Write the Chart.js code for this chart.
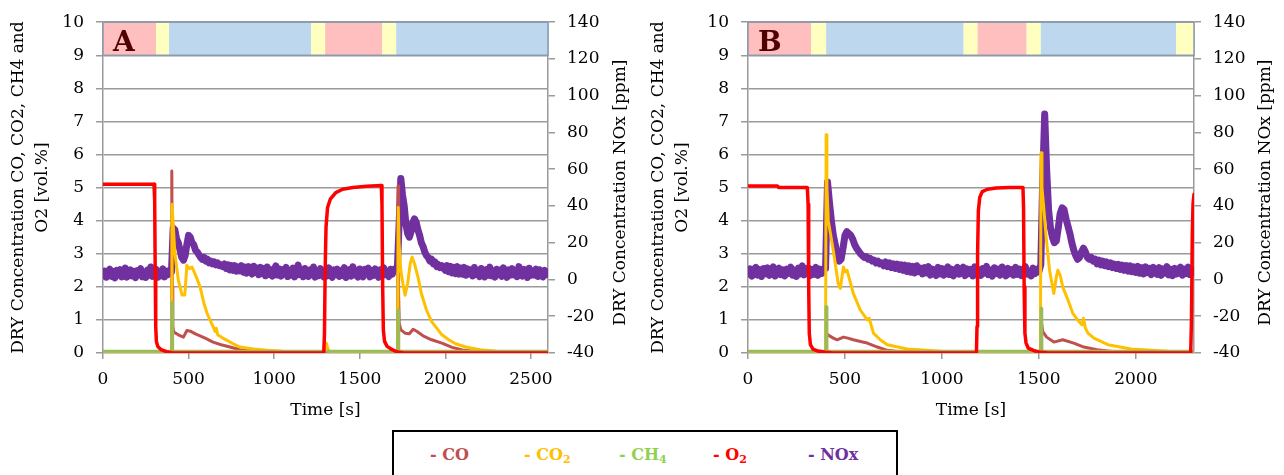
<!DOCTYPE html>
<html>
<head>
<meta charset="utf-8">
<script src="https://cdn.jsdelivr.net/npm/chart.js@4.4.1/dist/chart.umd.min.js"></script>
<style>
  body { margin: 0; background: #fff; width: 1284px; height: 475px; overflow: hidden; position: relative; font-family: "DejaVu Serif", serif; }
  #wrapA { position: absolute; left: 0; top: 0; }
  #wrapB { position: absolute; left: 640px; top: 0; }
  #legend { position: absolute; left: 392px; top: 430px; width: 506px; height: 70px; border: 2px solid #000; box-sizing: border-box; background: #fff; }
  #legend span { position: absolute; top: 13px; font-weight: bold; font-size: 16px; line-height: 20px; white-space: nowrap; }
  #legend sub { font-size: 11px; vertical-align: -3px; line-height: 0; }
</style>
</head>
<body>
<div id="wrapA"><canvas id="chartA" width="640" height="430"></canvas></div>
<div id="wrapB"><canvas id="chartB" width="644" height="430"></canvas></div>
<div id="legend">
  <span style="left:36px;color:#C0504D">- CO</span>
  <span style="left:130px;color:#FFC000">- CO<sub>2</sub></span>
  <span style="left:225px;color:#92D050">- CH<sub>4</sub></span>
  <span style="left:319px;color:#FF0000">- O<sub>2</sub></span>
  <span style="left:414px;color:#7030A0">- NOx</span>
</div>
<script>
// ---- data (time in s, gases in vol.%, NOx in ppm) ----
const NOX_STEP = 10; // s between NOx samples

const A_X_TICKS = [0, 500, 1000, 1500, 2000, 2500];
const B_X_TICKS = [0, 500, 1000, 1500, 2000];
const LEFT_TICKS = [0, 1, 2, 3, 4, 5, 6, 7, 8, 9, 10];
const RIGHT_TICKS = [-40, -20, 0, 20, 40, 60, 80, 100, 120, 140];

const Y_TITLE = ['DRY Concentration CO, CO2, CH4 and', 'O2 [vol.%]'];
const NOX_TITLE = 'DRY Concentration NOx [ppm]';
const X_TITLE = 'Time [s]';

// phase strip at the top: [from, to, phase]
const A_BANDS = [[0, 310, 'ox'], [310, 386, 'sw'], [386, 1216, 'red'], [1216, 1298, 'sw'],
  [1298, 1632, 'ox'], [1632, 1713, 'sw'], [1713, 2600, 'red']];
const B_BANDS = [[0, 326, 'ox'], [326, 403, 'sw'], [403, 1112, 'red'], [1112, 1184, 'sw'],
  [1184, 1437, 'ox'], [1437, 1510, 'sw'], [1510, 2208, 'red'], [2208, 2300, 'sw']];

// panel A
const A_O2 = [[0,5.1],[298,5.1],[302,4.6],[305,2.5],[308,0.8],[312,0.35],[320,0.2],[340,0.1],[370,0.04],[410,0],
  [1290,0],[1294,0.6],[1298,2.5],[1303,3.8],[1312,4.4],[1328,4.65],[1360,4.85],[1400,4.95],[1460,5.0],[1540,5.04],
  [1626,5.06],[1630,4.5],[1634,2.0],[1638,0.7],[1645,0.35],[1660,0.2],[1690,0.1],[1720,0.03],[1760,0],[2600,0]];
const A_CO = [[0,0],[399,0],[402,5.5],[405,2.0],[408,0.8],[414,0.63],[440,0.55],[470,0.48],[490,0.68],[510,0.66],
  [540,0.58],[567,0.52],[600,0.44],[643,0.33],[690,0.25],[742,0.18],[800,0.1],[870,0.05],[950,0.02],[1050,0],
  [1721,0],[1724,5.05],[1727,1.8],[1731,0.9],[1740,0.7],[1765,0.6],[1790,0.58],[1812,0.72],[1835,0.65],[1870,0.52],
  [1920,0.4],[1980,0.3],[2040,0.17],[2100,0.09],[2200,0.03],[2300,0],[2600,0]];
const A_CO2 = [[0,0],[400,0],[403,4.5],[408,4.1],[420,3.0],[440,2.2],[462,1.75],[478,1.75],[490,2.65],[505,2.55],
  [520,2.6],[545,2.3],[567,2.0],[590,1.5],[608,1.2],[643,0.8],[655,0.65],[662,0.75],[670,0.55],[700,0.45],
  [725,0.38],[760,0.28],[800,0.18],[880,0.12],[958,0.08],[1050,0.05],[1150,0.04],[1290,0.02],[1305,0.3],[1315,0.1],
  [1330,0.02],[1722,0.02],[1725,4.4],[1730,3.3],[1740,2.5],[1752,2.1],[1765,1.75],[1780,2.1],[1795,2.7],[1806,2.9],
  [1820,2.7],[1840,2.3],[1860,1.8],[1890,1.3],[1920,0.95],[1950,0.75],[1980,0.55],[2020,0.4],[2060,0.28],[2120,0.18],
  [2204,0.1],[2300,0.05],[2400,0.02],[2600,0.02]];
const A_CH4 = [[0,0.05],[400,0.05],[402,1.53],[405,1.53],[407,0.05],[1722,0.05],[1724,1.3],[1727,1.3],[1729,0.05],[2600,0.05]];
const A_NOX = [
  2.0, 4.6, 1.2, 4.1, 5.6, 1.7, 4.4, 0.9, 5.0, 2.3,   // 0
  5.4, 1.4, 3.8, 6.2, 1.3, 3.4, 5.2, 1.9, 4.4, 1.0,   // 100
  4.8, 2.6, 5.9, 1.5, 4.2, 1.1, 5.1, 2.4, 6.8, 1.7,   // 200
  3.9, 5.6, 1.2, 4.5, 2.0, 5.8, 1.4, 4.6, 2.7, 5.0,   // 300
  4.0, 28, 27, 22, 20, 16, 12, 10.5, 13, 19,          // 400
  24, 23, 20, 19, 16, 15, 13.5, 12, 11, 12,           // 500
  10, 11, 9, 10, 8.5, 9.5, 8, 9, 7.5, 8,              // 600
  7, 8.5, 6, 8, 5.2, 7.6, 5, 7.5, 4.5, 6.8,           // 700
  4.7, 7.5, 4.0, 6.8, 3.4, 7.0, 4.2, 3.0, 7.2, 3.7,   // 800
  6.2, 2.6, 6.6, 3.2, 5.9, 2.0, 6.8, 2.8, 5.4, 1.8,   // 900
  5.2, 7.4, 2.4, 5.8, 1.8, 5.4, 2.9, 6.6, 1.6, 4.9,   // 1000
  2.4, 6.2, 1.4, 5.1, 7.8, 2.6, 5.5, 1.5, 6.0, 3.0,   // 1100
  1.7, 5.3, 2.5, 6.8, 1.3, 4.6, 2.1, 5.9, 2.7, 1.4,   // 1200
  5.0, 1.9, 6.3, 2.4, 1.2, 5.2, 2.9, 5.6, 1.6, 4.7,   // 1300
  2.3, 6.5, 1.1, 4.4, 5.3, 1.8, 6.9, 2.5, 4.8, 1.3,   // 1400
  5.7, 2.7, 1.5, 5.5, 3.0, 6.2, 1.4, 5.0, 2.2, 5.8,   // 1500
  2.8, 1.2, 5.2, 2.0, 6.4, 2.6, 4.6, 1.6, 5.6, 2.9,   // 1600
  5.4, 6.0, 6.5, 30, 55, 46, 40, 30, 25, 23,          // 1700
  26, 31, 33, 31, 27, 24, 20, 18, 15, 13,             // 1800
  12, 10, 11, 8.5, 9.5, 7, 8, 6.5, 7.5, 6,            // 1900
  5.0, 7.6, 4.2, 7.1, 3.6, 6.6, 3.2, 7.0, 2.9, 6.2,   // 2000
  2.9, 6.6, 2.3, 5.8, 3.1, 5.2, 1.9, 6.5, 2.7, 4.7,   // 2100
  1.6, 6.0, 3.0, 1.4, 5.4, 2.4, 6.7, 2.0, 4.9, 1.3,   // 2200
  5.6, 2.6, 5.1, 1.7, 6.3, 3.2, 1.2, 5.2, 2.3, 5.9,   // 2300
  2.5, 4.6, 1.5, 7.0, 2.8, 1.9, 5.5, 3.1, 1.1, 6.1,   // 2400
  2.2, 4.9, 2.4, 5.7, 1.6, 5.3, 2.9, 1.4, 5.0, 2.6,   // 2500
  4.0                                                 // 2600
];

// panel B
const B_O2 = [[0,5.05],[150,5.05],[160,5.0],[306,5.0],[310,4.5],[313,2.0],[316,0.6],[322,0.25],[335,0.12],[360,0.06],
  [400,0.02],[440,0],[1178,0],[1181,0.8],[1184,3.0],[1188,4.3],[1195,4.7],[1208,4.88],[1235,4.95],[1280,4.99],
  [1350,5.0],[1418,5.0],[1421,4.4],[1424,2.0],[1428,0.6],[1434,0.3],[1445,0.15],[1475,0.07],[1510,0.02],[1550,0],
  [2283,0],[2287,1.0],[2291,3.5],[2295,4.5],[2300,4.8]];
const B_CO = [[0,0],[399,0],[402,1.0],[405,0.6],[414,0.54],[440,0.45],[460,0.4],[492,0.48],[515,0.45],[543,0.4],
  [580,0.35],[615,0.3],[667,0.18],[718,0.08],[800,0.02],[900,0],[1511,0],[1514,0.9],[1520,0.65],[1540,0.48],
  [1577,0.33],[1623,0.4],[1680,0.3],[1732,0.18],[1800,0.1],[1900,0.03],[2000,0],[2300,0]];
const B_CO2 = [[0,0],[400,0],[403,6.6],[407,5.0],[414,4.0],[440,3.1],[465,2.1],[476,1.95],[492,2.6],[502,2.45],
  [511,2.5],[543,1.8],[579,1.3],[615,1.0],[625,1.05],[647,0.6],[682,0.4],[718,0.25],[822,0.12],[994,0.05],
  [1180,0.03],[1508,0.03],[1511,6.05],[1516,5.0],[1525,4.4],[1536,3.6],[1555,2.5],[1577,1.8],[1590,2.3],[1598,2.5],
  [1610,2.35],[1623,2.0],[1650,1.6],[1675,1.2],[1700,1.0],[1722,0.85],[1730,1.05],[1740,0.75],[1753,0.6],[1784,0.45],
  [1856,0.25],[1975,0.12],[2167,0.05],[2300,0.03]];
const B_CH4 = [[0,0.05],[400,0.05],[402,1.4],[405,1.4],[407,0.05],[1509,0.05],[1511,1.35],[1514,1.35],[1516,0.05],[2300,0.05]];
const B_NOX = [
  3.0, 5.8, 1.8, 5.2, 6.6, 2.4, 5.4, 1.6, 6.0, 3.2,   // 0
  6.4, 2.2, 4.8, 6.9, 1.9, 4.6, 6.1, 2.6, 5.3, 2.0,   // 100
  5.6, 3.3, 6.7, 2.3, 5.1, 1.7, 6.2, 3.0, 7.4, 2.5,   // 200
  4.9, 6.3, 2.1, 5.5, 2.8, 6.6, 2.2, 5.7, 3.3, 5.9,   // 300
  6, 53, 42, 32, 24, 19, 14, 10, 11, 17,              // 400
  24, 26, 25, 24, 22, 19, 17, 15.5, 14, 13,           // 500
  12, 12.5, 11, 11.5, 10, 10.5, 9, 10, 8.5, 9,        // 600
  7.5, 9.5, 7, 9, 6.5, 8.5, 6, 8.3, 5.5, 8,           // 700
  5.0, 7.8, 4.4, 7.4, 4.0, 7.1, 3.6, 7.5, 4.2, 6.2,   // 800
  3.0, 6.5, 3.6, 7.0, 2.4, 5.7, 3.9, 2.2, 6.6, 3.1,   // 900
  5.9, 2.3, 5.2, 6.8, 2.7, 5.6, 2.0, 5.4, 6.5, 2.9,   // 1000
  5.0, 6.7, 2.1, 5.8, 3.2, 5.5, 1.9, 6.9, 3.0, 5.3,   // 1100
  2.2, 6.0, 3.4, 7.1, 2.6, 5.2, 1.8, 6.4, 3.3, 5.6,   // 1200
  2.4, 6.8, 3.7, 2.0, 6.1, 3.1, 5.4, 2.3, 6.6, 2.8,   // 1300
  5.7, 2.1, 5.1, 7.0, 2.9, 4.7, 1.9, 6.2, 3.2, 5.5,   // 1400
  4.2, 8, 55, 90, 60, 38, 28, 23, 20, 21,             // 1500
  28, 36, 39, 38, 33, 29, 25, 20, 16, 13,             // 1600
  11, 12, 15, 17, 15, 12, 11, 12, 10, 11,             // 1700
  8.5, 10.5, 8, 10, 7.5, 9.5, 7, 9, 6.5, 8.3,         // 1800
  6, 8.2, 5.5, 7.8, 5.0, 7.6, 4.5, 7.4, 4.2, 6.8,     // 1900
  3.8, 7.2, 3.4, 6.4, 3.0, 6.9, 3.7, 6.1, 2.6, 6.6,   // 2000
  3.9, 2.8, 6.5, 2.2, 5.8, 3.4, 7.0, 2.5, 5.5, 2.1,   // 2100
  6.1, 3.0, 5.3, 6.7, 2.3, 5.6, 3.2, 6.8, 2.7, 5.2,   // 2200
  4.0                                                 // 2300
];

// ---- styling ----
const PHASE_COLORS = { ox: '#FFBFBF', sw: '#FFFFC0', red: '#BDD7EE' };
const FONT = '"DejaVu Serif", serif';
const GRID = '#9a9a9a';

const pairs = arr => arr.map(([x, y]) => ({ x, y }));
const series = (vals, step) => vals.map((y, i) => ({ x: i * step, y }));

// strip of phases, panel letter and NOx axis title (reads bottom to top)
const panelDecor = {
  id: 'panelDecor',
  beforeDatasetsDraw(chart, args, opts) {
    const { ctx, chartArea, scales: { x, y } } = chart;
    const top = y.getPixelForValue(10), bot = y.getPixelForValue(9);
    ctx.save();
    opts.bands.forEach(([from, to, phase]) => {
      const x0 = x.getPixelForValue(from), x1 = x.getPixelForValue(to);
      ctx.fillStyle = PHASE_COLORS[phase];
      ctx.fillRect(x0, top, x1 - x0, bot - top);
    });
    ctx.strokeStyle = '#8a9bb0';
    ctx.lineWidth = 1.5;
    ctx.strokeRect(chartArea.left, top, chartArea.right - chartArea.left, bot - top);
    ctx.font = 'bold 28px ' + FONT;
    ctx.fillStyle = '#4f0000';
    ctx.textBaseline = 'alphabetic';
    ctx.fillText(opts.letter, chartArea.left + 10, bot - 4);
    ctx.restore();
  },
  afterDraw(chart, args, opts) {
    const { ctx, chartArea } = chart;
    ctx.save();
    ctx.translate(opts.titleX, (chartArea.top + chartArea.bottom) / 2 + 5);
    ctx.rotate(-Math.PI / 2);
    ctx.font = '17px ' + FONT;
    ctx.fillStyle = '#000';
    ctx.textAlign = 'center';
    ctx.textBaseline = 'middle';
    ctx.fillText(NOX_TITLE, 0, 0);
    ctx.restore();
  }
};

function makeChart(id, p) {
  const line = (label, data, color, width, axis, order) => ({
    label, data, borderColor: color, borderWidth: width, yAxisID: axis, order,
    pointRadius: 0, tension: 0, borderJoinStyle: 'round', borderCapStyle: 'round'
  });
  return new Chart(document.getElementById(id), {
    type: 'line',
    data: {
      datasets: [
        line('O2', pairs(p.o2), '#FF0000', 3.5, 'y', 0),
        line('CH4', pairs(p.ch4), '#9BBB59', 3, 'y', 1),
        line('CO2', pairs(p.co2), '#FFC000', 3, 'y', 2),
        line('CO', pairs(p.co), '#C0504D', 3, 'y', 3),
        line('NOx', series(p.nox, NOX_STEP), '#7030A0', 7, 'y2', 4)
      ]
    },
    options: {
      responsive: false,
      animation: false,
      events: [],
      layout: { padding: { top: 21, right: 0, bottom: 0, left: 0 } },
      scales: {
        x: {
          type: 'linear', min: 0, max: p.xMax,
          afterFit: s => { s.height = 77; },
          afterBuildTicks: s => { s.ticks = p.xTicks.map(v => ({ value: v })); },
          ticks: { autoSkip: false, padding: 10, color: '#000', font: { family: FONT, size: 17 }, maxRotation: 0, callback: v => String(v) },
          grid: { display: true, drawOnChartArea: false, drawTicks: true, tickLength: 6, color: GRID, lineWidth: 1.5 },
          border: { display: false },
          title: { display: true, text: X_TITLE, color: '#000', font: { family: FONT, size: 17 }, padding: { top: 0, bottom: 9 } }
        },
        y: {
          position: 'left', min: 0, max: 10,
          afterFit: s => { s.width = p.leftW; },
          afterBuildTicks: s => { s.ticks = LEFT_TICKS.map(v => ({ value: v })); },
          ticks: { padding: 12, color: '#000', font: { family: FONT, size: 17 }, callback: v => String(v) },
          grid: { color: GRID, lineWidth: 1.5, tickLength: 7 },
          border: { display: true, color: GRID, width: 1.5 },
          title: { display: true, text: Y_TITLE, color: '#000', font: { family: FONT, size: 17, lineHeight: 1.45 }, padding: { top: 6, bottom: 0 } }
        },
        y2: {
          position: 'right', min: -40, max: 140,
          afterFit: s => { s.width = p.rightW; },
          afterBuildTicks: s => { s.ticks = RIGHT_TICKS.map(v => ({ value: v })); },
          ticks: { padding: 12, color: '#000', font: { family: FONT, size: 17 }, callback: v => String(v) },
          grid: { drawOnChartArea: false, color: GRID, lineWidth: 1.5, tickLength: 7 },
          border: { display: true, color: GRID, width: 1.5 }
        }
      },
      plugins: {
        legend: { display: false },
        tooltip: { enabled: false },
        panelDecor: { bands: p.bands, letter: p.letter, titleX: p.titleX }
      }
    },
    plugins: [panelDecor]
  });
}

makeChart('chartA', { o2: A_O2, co: A_CO, co2: A_CO2, ch4: A_CH4, nox: A_NOX, bands: A_BANDS,
  letter: 'A', xMax: 2600, xTicks: A_X_TICKS, leftW: 103, rightW: 92, titleX: 621 });
makeChart('chartB', { o2: B_O2, co: B_CO, co2: B_CO2, ch4: B_CH4, nox: B_NOX, bands: B_BANDS,
  letter: 'B', xMax: 2300, xTicks: B_X_TICKS, leftW: 108, rightW: 90, titleX: 626 });
</script>
</body>
</html>
